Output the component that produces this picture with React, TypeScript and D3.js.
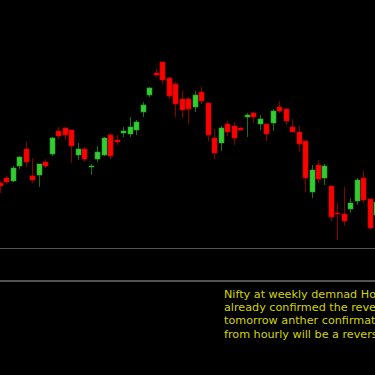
import { useEffect, useRef } from "react";
import * as d3 from "d3";

// daily candles (price readings), oldest first
const opens = [11268, 11288, 11276, 11336, 11404, 11296, 11300, 11352, 11384, 11476, 11488, 11480, 11380, 11404, 11332, 11364, 11380, 11460, 11440, 11470,
  11464, 11480, 11552, 11620, 11708, 11752, 11688, 11664, 11604, 11604, 11572, 11632, 11588, 11448, 11428, 11504, 11496, 11488, 11532, 11548,
  11504, 11504, 11508, 11572, 11564, 11492, 11472, 11436, 11232, 11340, 11288, 11256, 11148, 11144, 11164, 11196, 11288, 11204, 11140];
const highs = [11276, 11296, 11336, 11376, 11432, 11368, 11344, 11364, 11452, 11492, 11492, 11480, 11428, 11412, 11344, 11416, 11452, 11468, 11460, 11492,
  11532, 11520, 11592, 11652, 11728, 11752, 11692, 11672, 11636, 11612, 11636, 11652, 11588, 11484, 11496, 11516, 11512, 11492, 11548, 11552,
  11540, 11504, 11564, 11596, 11564, 11524, 11496, 11436, 11340, 11360, 11344, 11256, 11188, 11252, 11208, 11288, 11316, 11204, 11200];
const lows = [11228, 11264, 11272, 11324, 11332, 11268, 11252, 11328, 11376, 11444, 11440, 11348, 11360, 11352, 11300, 11352, 11376, 11364, 11420, 11452,
  11452, 11460, 11532, 11612, 11692, 11664, 11604, 11532, 11528, 11504, 11552, 11584, 11436, 11364, 11396, 11456, 11420, 11480, 11452, 11508,
  11480, 11436, 11476, 11548, 11500, 11472, 11392, 11232, 11208, 11268, 11260, 11116, 11040, 11096, 11148, 11180, 11188, 11080, 11132];
const closes = [11256, 11272, 11328, 11372, 11352, 11280, 11344, 11336, 11448, 11456, 11460, 11416, 11404, 11364, 11334, 11392, 11448, 11376, 11432, 11476,
  11492, 11512, 11580, 11648, 11700, 11680, 11616, 11584, 11560, 11564, 11620, 11596, 11460, 11388, 11488, 11472, 11448, 11482, 11540, 11532,
  11524, 11464, 11556, 11556, 11516, 11472, 11424, 11288, 11320, 11284, 11336, 11132, 11144, 11116, 11188, 11280, 11200, 11088, 11192];

const priceRange = [11000, 12000];
const panelLines = [248.5, 281];

// the note as far as it shows before the right edge
const noteLines = [
  "Nifty at weekly demnad Ho",
  "already confirmed the reve",
  "tomorrow anther confirmati",
  "from hourly will be a revers",
];

export default function App() {
  const svgRef = useRef<SVGSVGElement>(null);

  useEffect(() => {
    document.body.style.margin = "0";
    document.body.style.background = "#000";
    if (!svgRef.current) return;
    const svg = d3.select(svgRef.current);
    svg.selectAll("*").remove();

    const w = 375, h = 375;
    svg.append("rect").attr("width", w).attr("height", h).attr("fill", "#000");

    const x = d3.scaleLinear().domain([0, opens.length - 1]).range([0, 376.4]);
    const y = d3.scaleLinear().domain(priceRange).range([250, 0]);

    const data = opens.map((o, i) => ({ i, o, h: highs[i], l: lows[i], c: closes[i] }));

    const g = svg.append("g");

    // wicks
    g.selectAll("line.wick")
      .data(data)
      .join("line")
      .attr("x1", (d) => Math.round(x(d.i)) + 0.5)
      .attr("x2", (d) => Math.round(x(d.i)) + 0.5)
      .attr("y1", (d) => y(d.h))
      .attr("y2", (d) => y(d.l))
      .attr("stroke", (d) => (d.c >= d.o ? "#1b6e1b" : "#8a0000"))
      .attr("stroke-width", 1);

    // bodies
    g.selectAll("rect.body")
      .data(data)
      .join("rect")
      .attr("x", (d) => Math.round(x(d.i)) - 2)
      .attr("width", 5)
      .attr("y", (d) => Math.round(y(Math.max(d.o, d.c))))
      .attr("height", (d) => Math.max(1, Math.round(Math.abs(y(d.o) - y(d.c)))))
      .attr("fill", (d) => (d.c >= d.o ? "#33cc33" : "#ff0000"))
      .attr("stroke", (d) => (d.c >= d.o ? "#27a827" : "#d00000"))
      .attr("stroke-width", 0.6);

    // separators
    svg.selectAll("line.sep")
      .data(panelLines)
      .join("line")
      .attr("x1", 0)
      .attr("x2", w)
      .attr("y1", (d) => d)
      .attr("y2", (d) => d)
      .attr("stroke", (d, i) => (i === 0 ? "#555" : "#6e6e6e"))
      .attr("stroke-width", (d, i) => (i === 0 ? 1 : 1.6));

    svg.append("g")
      .selectAll("text")
      .data(noteLines)
      .join("text")
      .attr("x", 224)
      .attr("y", (d, i) => 297.5 + i * 13.4)
      .attr("fill", "#d4d400")
      .attr("font-family", "DejaVu Sans, Verdana, sans-serif")
      .attr("font-size", 11.2)
      .text((d) => d);
  }, []);

  return (
    <svg
      ref={svgRef}
      width={375}
      height={375}
      style={{ position: "absolute", left: 0, top: 0, display: "block", background: "#000" }}
    />
  );
}
